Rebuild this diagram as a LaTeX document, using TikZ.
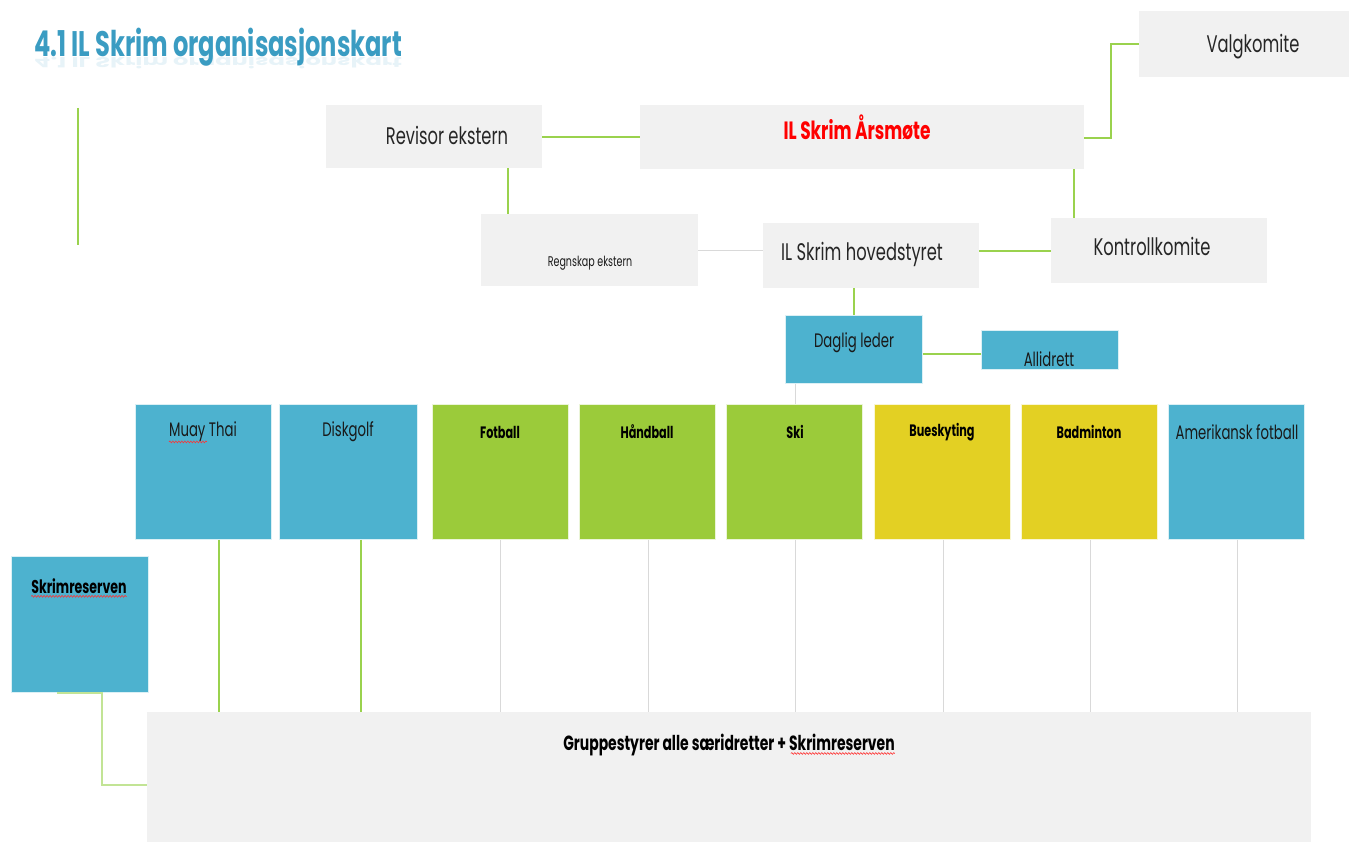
\documentclass[tikz,border=0pt]{standalone}
\usepackage{fontspec}
\setmainfont{Poppins}[FakeStretch=0.68]
\usetikzlibrary{decorations.pathmorphing}
\definecolor{boxgray}{HTML}{F1F1F1}
\definecolor{skyblue}{HTML}{4DB2CF}
\definecolor{leafgreen}{HTML}{9BCB3A}
\definecolor{mustard}{HTML}{E3D023}
\definecolor{linegreen}{HTML}{9AD24E}
\definecolor{linegray}{HTML}{D9D9D9}
\definecolor{titleblue}{HTML}{3A9CC2}
\tikzset{
  graybox/.style={fill=boxgray, draw=none, inner sep=0pt},
  bluebox/.style={fill=skyblue, draw=white!80!skyblue, line width=0.8pt, inner sep=0pt},
  greenbox/.style={fill=leafgreen, draw=white!80!leafgreen, line width=0.8pt, inner sep=0pt},
  yellowbox/.style={fill=mustard, draw=white!80!mustard, line width=0.8pt, inner sep=0pt},
  gline/.style={draw=linegreen, line width=1.6pt},
  glinethin/.style={draw=linegreen, line width=1.1pt},
  grline/.style={draw=linegray, line width=1pt},
  lbl/.style={inner sep=0pt, text=black!85, font=\fontsize{24}{26}\selectfont},
  slbl/.style={inner sep=0pt, text=black!90, font=\fontsize{19.5}{21}\selectfont},
  blbl/.style={inner sep=0pt, text=black, font=\bfseries\fontsize{16.5}{18}\selectfont},
  spell/.style={draw=red!80, line width=0.6pt, decorate, decoration={snake, amplitude=0.9pt, segment length=3pt}},
}
\newcommand{\boxat}[6]{\node[#1, minimum width=#4-#2, minimum height=#5-#3, anchor=north west] (#6) at (#2,#3) {};}
\begin{document}
\begin{tikzpicture}[x=1pt,y=-1pt]
\useasboundingbox[fill=white] (0,0) rectangle (1349,842);
% title
\node[inner sep=0pt, anchor=base west, text=titleblue!12, yscale=-0.4, font=\bfseries\fontsize{35.5}{38}\selectfont] (titlerefl) at (34,58) {4.1 IL Skrim organisasjonskart};
\node[inner sep=0pt, anchor=base west, text=titleblue, font=\bfseries\fontsize{35.5}{38}\selectfont] (title) at (34,57) {4.1 IL Skrim organisasjonskart};
\coordinate (lt) at (78,108);
\coordinate (lb) at (78,245);
\draw[glinethin] (lt) -- (lb);
% top boxes
\boxat{graybox}{1139}{11}{1349}{77}{valg}
\boxat{graybox}{326}{105}{542}{168}{revisor}
\boxat{graybox}{640}{105}{1084}{169}{arsmote}
\boxat{graybox}{481}{214}{698}{286}{regnskap}
\boxat{graybox}{763}{223}{979}{288}{hoved}
\boxat{graybox}{1051}{218}{1267}{283}{kontroll}
\boxat{bluebox}{785}{315}{922}{383}{daglig}
\boxat{bluebox}{981}{330}{1118}{369}{alli}
% sport boxes
\boxat{bluebox}{135}{404}{271}{539}{muay}
\boxat{bluebox}{279}{404}{417}{539}{disk}
\boxat{greenbox}{432}{404}{568}{539}{fotball}
\boxat{greenbox}{579}{404}{715}{539}{handball}
\boxat{greenbox}{726}{404}{862}{539}{ski}
\boxat{yellowbox}{874}{404}{1010}{539}{bue}
\boxat{yellowbox}{1021}{404}{1157}{539}{badm}
\boxat{bluebox}{1168}{404}{1304}{539}{amfot}
\boxat{bluebox}{11}{556}{148}{692}{reserve}
\boxat{graybox}{147}{712}{1311}{842}{gruppe}
% texts
\node[lbl] (tvalg) at (1253,47) {Valgkomite};
\node[lbl] (trev) at (447,135) {Revisor ekstern};
\node[inner sep=0pt, text=red, font=\bfseries\fontsize{25}{27}\selectfont] (tars) at (857,127) {IL Skrim Årsmøte};
\node[inner sep=0pt, text=black!90, font=\fontsize{14}{16}\selectfont] (treg) at (590,263) {Regnskap ekstern};
\node[lbl] (thoved) at (862,254) {IL Skrim hovedstyret};
\node[lbl] (tkont) at (1152,246) {Kontrollkomite};
\node[slbl] (tdag) at (854,343) {Daglig leder};
\node[slbl] (talli) at (1049,359) {Allidrett};
\node[slbl] (tmuay) at (203,432) {Muay Thai};
\node[slbl] (tdisk) at (348,432) {Diskgolf};
\node[blbl] (tfot) at (500,432) {Fotball};
\node[blbl] (thand) at (647,432) {Håndball};
\node[blbl] (tski) at (795,432) {Ski};
\node[blbl] (tbue) at (942,432) {Bueskyting};
\node[blbl] (tbad) at (1089,432) {Badminton};
\node[slbl] (tam) at (1237,432) {Amerikansk fotball};
\node[inner sep=0pt, text=black, font=\bfseries\fontsize{18.5}{20}\selectfont] (tres) at (79,586) {Skrimreserven};
\node[inner sep=0pt, text=black, font=\bfseries\fontsize{20.5}{22}\selectfont] (tgrp) at (729,745) {Gruppestyrer alle særidretter + Skrimreserven};
% spell marks
\draw[spell] ([yshift=-5pt]tmuay.base west) -- ++(38,0);
\draw[spell] ([yshift=-3pt]tres.base west) -- ([yshift=-3pt]tres.base east);
\draw[spell] ([yshift=-3pt,xshift=-104pt]tgrp.base east) -- ([yshift=-3pt]tgrp.base east);
% connectors top
\draw[gline] (revisor.east |- 0,137) -- (arsmote.west |- 0,137);
\coordinate (vk) at (1111,138);
\draw[gline] (arsmote.east |- vk) -- (vk) -- (vk |- valg.west) -- (valg.west);
\draw[glinethin] (arsmote.south -| 1074,0) -- (kontroll.north -| 1074,0);
\draw[glinethin] (revisor.south -| 508,0) -- (regnskap.north -| 508,0);
\draw[grline] (regnskap.east |- 0,251) -- (hoved.west |- 0,251);
\draw[gline] (hoved.east |- 0,251) -- (kontroll.west |- 0,251);
\draw[glinethin] (hoved.south -| 854,0) -- (daglig.north -| 854,0);
\draw[glinethin] (daglig.east |- 0,354) -- (alli.west |- 0,354);
\draw[grline] (daglig.south -| 795,0) -- (ski.north -| 795,0);
% connectors down
\draw[glinethin] (muay.south -| 219,0) -- (gruppe.north -| 219,0);
\draw[glinethin] (disk.south -| 361,0) -- (gruppe.north -| 361,0);
\draw[grline] (fotball.south -| 500,0) -- (gruppe.north -| 500,0);
\draw[grline] (handball.south -| 648,0) -- (gruppe.north -| 648,0);
\draw[grline] (ski.south -| 795,0) -- (gruppe.north -| 795,0);
\draw[grline] (bue.south -| 943,0) -- (gruppe.north -| 943,0);
\draw[grline] (badm.south -| 1090,0) -- (gruppe.north -| 1090,0);
\draw[grline] (amfot.south -| 1237,0) -- (gruppe.north -| 1237,0);
\coordinate (rb) at (102,693);
\draw[gline, draw=linegreen!60] (57,693) -- (rb) -- (rb |- 0,785) -- (gruppe.west |- 0,785);
\end{tikzpicture}
\end{document}
